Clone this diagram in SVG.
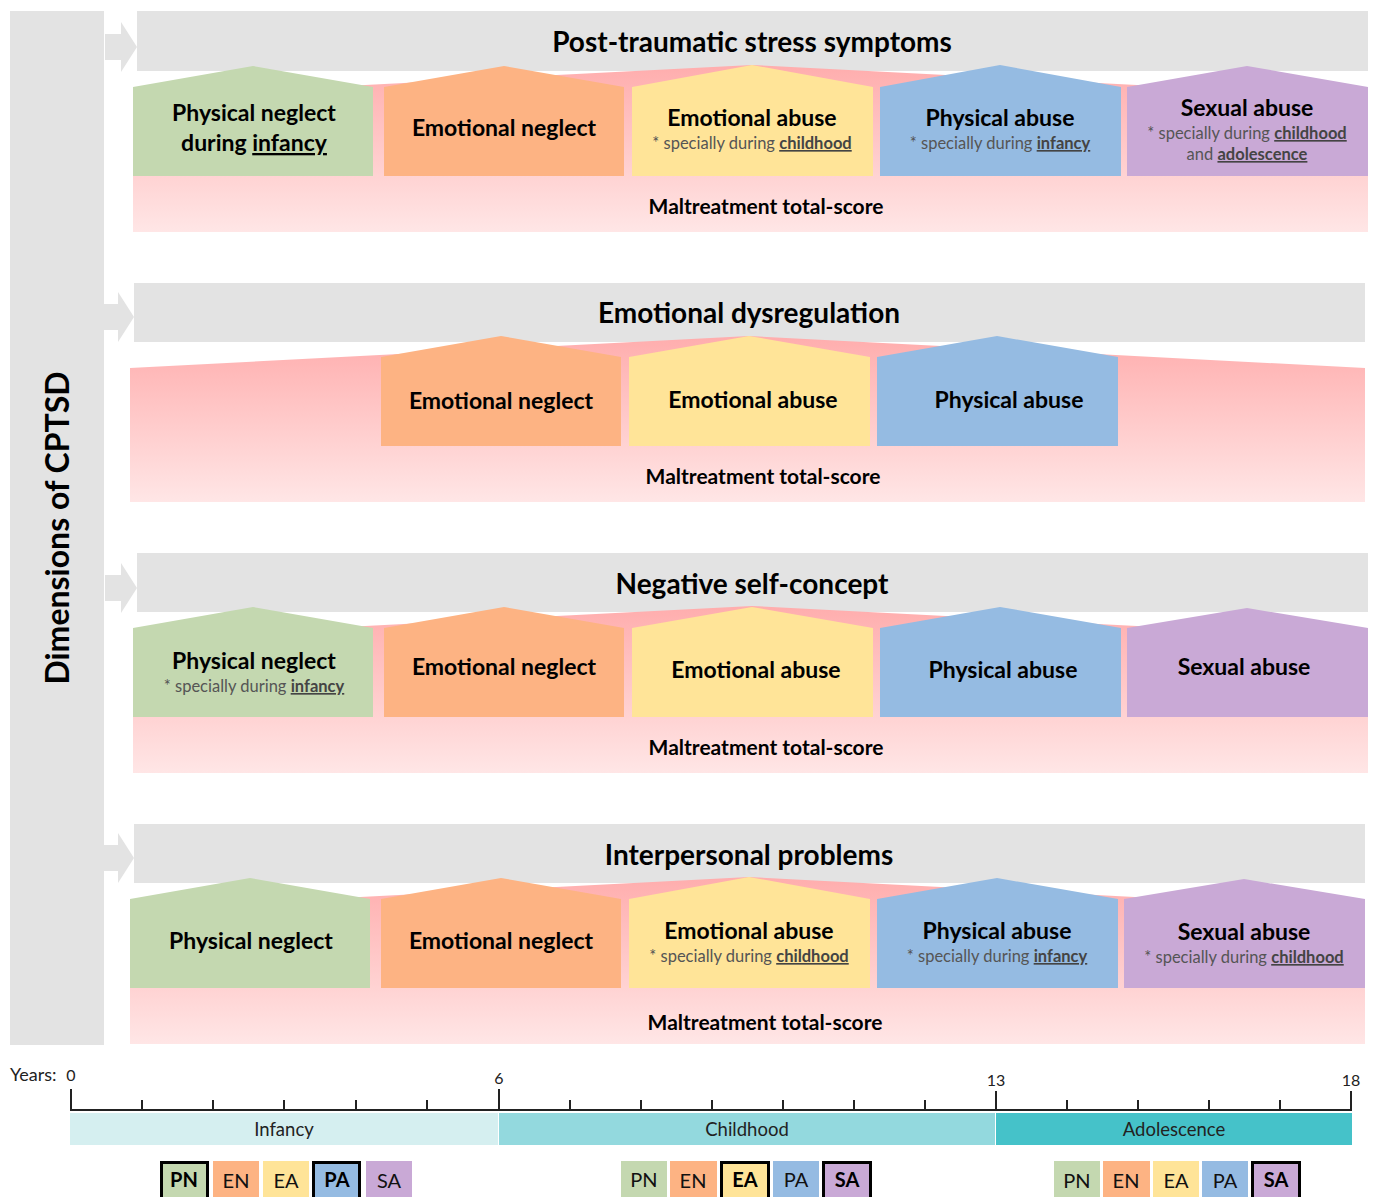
<svg xmlns="http://www.w3.org/2000/svg" width="1373" height="1197" viewBox="0 0 1373 1197">
<defs>
<linearGradient id="pink" x1="0" y1="0" x2="0" y2="1">
<stop offset="0" stop-color="#ffadad"/>
<stop offset="1" stop-color="#ffe6e6"/>
</linearGradient>
<path id="arr" d="M-32,-13 L-16,-13 L-16,-25 L0,0 L-16,25 L-16,13 L-32,13 Z"/>
</defs>
<style>
text{font-family:Lato,"Open Sans","Liberation Sans",sans-serif;text-anchor:middle;fill:#000}
.gray{fill:#e3e3e3}
.pink{fill:url(#pink)}
.pn{fill:#c4d8b0}.en{fill:#fdb383}.ea{fill:#ffe498}.pa{fill:#95bbe2}.sa{fill:#c9a9d6}
.title{font-size:28px;font-weight:bold}
.lab{font-size:23px;font-weight:bold}
.sub{font-size:16.5px;fill:#555}
.subb{font-weight:bold;text-decoration:underline;fill:#444}
.mt{font-size:21px;font-weight:bold}
.per{font-size:18.5px;fill:#222}
.yr{font-size:16px;fill:#222}
.lg{font-size:20px;fill:#111}
.lgb{font-size:20px;font-weight:bold;fill:#000}
.bold{fill:none;stroke:#000;stroke-width:3}
</style>

<g id="dimensions">
<rect class="gray" x="10" y="11" width="94" height="1034"/>
<text transform="translate(69,528) rotate(-90)" style="font-size:32px;font-weight:bold">Dimensions of CPTSD</text>
</g>

<g id="connectors" class="gray">
<use href="#arr" x="137" y="47"/>
<use href="#arr" x="134" y="317"/>
<use href="#arr" x="137" y="588"/>
<use href="#arr" x="134" y="858"/>
</g>

<!-- Band 1 -->
<g id="band1">
<rect class="gray" x="137" y="11" width="1231" height="60"/>
<text class="title" x="752" y="52">Post-traumatic stress symptoms</text>
<polygon class="pink" points="133,97 752,65 1368,97 1368,232 133,232"/>
<g id="b1-pn"><polygon class="pn" points="133,87 253,66 373,87 373,176 133,176"/>
<text class="lab" x="254" y="121">Physical neglect</text>
<text class="lab" x="254" y="151">during <tspan text-decoration="underline">infancy</tspan></text></g>
<g id="b1-en"><polygon class="en" points="384,87 504,66 624,87 624,176 384,176"/>
<text class="lab" x="504" y="136">Emotional neglect</text></g>
<g id="b1-ea"><polygon class="ea" points="632,87 752,65 873,87 873,176 632,176"/>
<text class="lab" x="752" y="126">Emotional abuse</text>
<text class="sub" x="752" y="149">* specially during <tspan class="subb">childhood</tspan></text></g>
<g id="b1-pa"><polygon class="pa" points="880,87 1000,65 1121,87 1121,176 880,176"/>
<text class="lab" x="1000" y="126">Physical abuse</text>
<text class="sub" x="1000" y="149">* specially during <tspan class="subb">infancy</tspan></text></g>
<g id="b1-sa"><polygon class="sa" points="1127,87 1247,66 1368,87 1368,176 1127,176"/>
<text class="lab" x="1247" y="116">Sexual abuse</text>
<text class="sub" x="1247" y="139">* specially during <tspan class="subb">childhood</tspan></text>
<text class="sub" x="1247" y="160">and <tspan class="subb">adolescence</tspan></text></g>
<text class="mt" x="766" y="214">Maltreatment total-score</text>
</g>

<!-- Band 2 -->
<g id="band2">
<rect class="gray" x="134" y="283" width="1231" height="59"/>
<text class="title" x="749" y="323">Emotional dysregulation</text>
<polygon class="pink" points="130,368 749,336 1365,368 1365,502 130,502"/>
<g id="b2-en"><polygon class="en" points="381,357 501,336 621,357 621,446 381,446"/>
<text class="lab" x="501" y="409">Emotional neglect</text></g>
<g id="b2-ea"><polygon class="ea" points="629,357 749,336 870,357 870,446 629,446"/>
<text class="lab" x="753" y="408">Emotional abuse</text></g>
<g id="b2-pa"><polygon class="pa" points="877,357 997,336 1118,357 1118,446 877,446"/>
<text class="lab" x="1009" y="408">Physical abuse</text></g>
<text class="mt" x="763" y="484">Maltreatment total-score</text>
</g>

<!-- Band 3 -->
<g id="band3">
<rect class="gray" x="137" y="553" width="1231" height="59"/>
<text class="title" x="752" y="594">Negative self-concept</text>
<polygon class="pink" points="133,638 752,606 1368,638 1368,773 133,773"/>
<g id="b3-pn"><polygon class="pn" points="133,628 253,607 373,628 373,717 133,717"/>
<text class="lab" x="254" y="669">Physical neglect</text>
<text class="sub" x="254" y="692">* specially during <tspan class="subb">infancy</tspan></text></g>
<g id="b3-en"><polygon class="en" points="384,628 504,607 624,628 624,717 384,717"/>
<text class="lab" x="504" y="675">Emotional neglect</text></g>
<g id="b3-ea"><polygon class="ea" points="632,628 752,607 873,628 873,717 632,717"/>
<text class="lab" x="756" y="678">Emotional abuse</text></g>
<g id="b3-pa"><polygon class="pa" points="880,628 1000,607 1121,628 1121,717 880,717"/>
<text class="lab" x="1003" y="678">Physical abuse</text></g>
<g id="b3-sa"><polygon class="sa" points="1127,628 1247,608 1368,628 1368,717 1127,717"/>
<text class="lab" x="1244" y="675">Sexual abuse</text></g>
<text class="mt" x="766" y="755">Maltreatment total-score</text>
</g>

<!-- Band 4 -->
<g id="band4">
<rect class="gray" x="134" y="824" width="1231" height="59"/>
<text class="title" x="749" y="865">Interpersonal problems</text>
<polygon class="pink" points="130,909 749,877 1365,909 1365,1044 130,1044"/>
<g id="b4-pn"><polygon class="pn" points="130,899 250,878 370,899 370,988 130,988"/>
<text class="lab" x="251" y="949">Physical neglect</text></g>
<g id="b4-en"><polygon class="en" points="381,899 501,878 621,899 621,988 381,988"/>
<text class="lab" x="501" y="949">Emotional neglect</text></g>
<g id="b4-ea"><polygon class="ea" points="629,899 749,877 870,899 870,988 629,988"/>
<text class="lab" x="749" y="939">Emotional abuse</text>
<text class="sub" x="749" y="962">* specially during <tspan class="subb">childhood</tspan></text></g>
<g id="b4-pa"><polygon class="pa" points="877,899 997,878 1118,899 1118,988 877,988"/>
<text class="lab" x="997" y="939">Physical abuse</text>
<text class="sub" x="997" y="962">* specially during <tspan class="subb">infancy</tspan></text></g>
<g id="b4-sa"><polygon class="sa" points="1124,899 1244,879 1365,899 1365,988 1124,988"/>
<text class="lab" x="1244" y="940">Sexual abuse</text>
<text class="sub" x="1244" y="963">* specially during <tspan class="subb">childhood</tspan></text></g>
<text class="mt" x="765" y="1030">Maltreatment total-score</text>
</g>

<!-- Timeline -->
<g id="timeline">
<text x="10" y="1081" style="font-size:18px;text-anchor:start;fill:#222">Years:</text>
<text class="yr" x="71" y="1081">0</text>
<text class="yr" x="499" y="1084">6</text>
<text class="yr" x="996" y="1086">13</text>
<text class="yr" x="1351" y="1086">18</text>
<g stroke="#222" stroke-width="2" fill="none">
<line x1="70" y1="1110" x2="1352" y2="1110"/>
<path d="M71,1089V1110 M499,1089V1110 M996,1091V1110 M1351,1091V1110"/>
<path d="M142,1100V1110 M213,1100V1110 M284,1100V1110 M356,1100V1110 M427,1100V1110 M570,1100V1110 M641,1100V1110 M712,1100V1110 M783,1100V1110 M854,1100V1110 M925,1100V1110 M1067,1100V1110 M1138,1100V1110 M1209,1100V1110 M1280,1100V1110"/>
</g>
<rect x="70" y="1113" width="428" height="32" fill="#d5eff0"/>
<rect x="499" y="1113" width="496" height="32" fill="#93d9de"/>
<rect x="996" y="1113" width="356" height="32" fill="#45c2c9"/>
<text class="per" x="284" y="1136">Infancy</text>
<text class="per" x="747" y="1136">Childhood</text>
<text class="per" x="1174" y="1136">Adolescence</text>
</g>

<g id="legend-infancy">
<rect class="pn" x="160" y="1161" width="49" height="40"/><rect class="bold" x="161.5" y="1162.5" width="46" height="40"/>
<text class="lgb" x="184" y="1187">PN</text>
<rect class="en" x="213" y="1161" width="46" height="40"/><text class="lg" x="236" y="1188">EN</text>
<rect class="ea" x="263" y="1161" width="46" height="40"/><text class="lg" x="286" y="1188">EA</text>
<rect class="pa" x="312" y="1161" width="49" height="40"/><rect class="bold" x="313.5" y="1162.5" width="46" height="40"/>
<text class="lgb" x="337" y="1187">PA</text>
<rect class="sa" x="366" y="1161" width="46" height="40"/><text class="lg" x="389" y="1188">SA</text>
</g>

<g id="legend-childhood">
<rect class="pn" x="621" y="1161" width="46" height="40"/><text class="lg" x="644" y="1187">PN</text>
<rect class="en" x="670" y="1161" width="47" height="40"/><text class="lg" x="693" y="1188">EN</text>
<rect class="ea" x="720" y="1161" width="50" height="40"/><rect class="bold" x="721.5" y="1162.5" width="47" height="40"/>
<text class="lgb" x="745" y="1187">EA</text>
<rect class="pa" x="773" y="1161" width="46" height="40"/><text class="lg" x="796" y="1187">PA</text>
<rect class="sa" x="822" y="1161" width="50" height="40"/><rect class="bold" x="823.5" y="1162.5" width="47" height="40"/>
<text class="lgb" x="847" y="1187">SA</text>
</g>

<g id="legend-adolescence">
<rect class="pn" x="1054" y="1161" width="46" height="40"/><text class="lg" x="1077" y="1188">PN</text>
<rect class="en" x="1103" y="1161" width="47" height="40"/><text class="lg" x="1126" y="1188">EN</text>
<rect class="ea" x="1153" y="1161" width="46" height="40"/><text class="lg" x="1176" y="1188">EA</text>
<rect class="pa" x="1202" y="1161" width="46" height="40"/><text class="lg" x="1225" y="1188">PA</text>
<rect class="sa" x="1251" y="1161" width="50" height="40"/><rect class="bold" x="1252.5" y="1162.5" width="47" height="40"/>
<text class="lgb" x="1276" y="1187">SA</text>
</g>
</svg>
